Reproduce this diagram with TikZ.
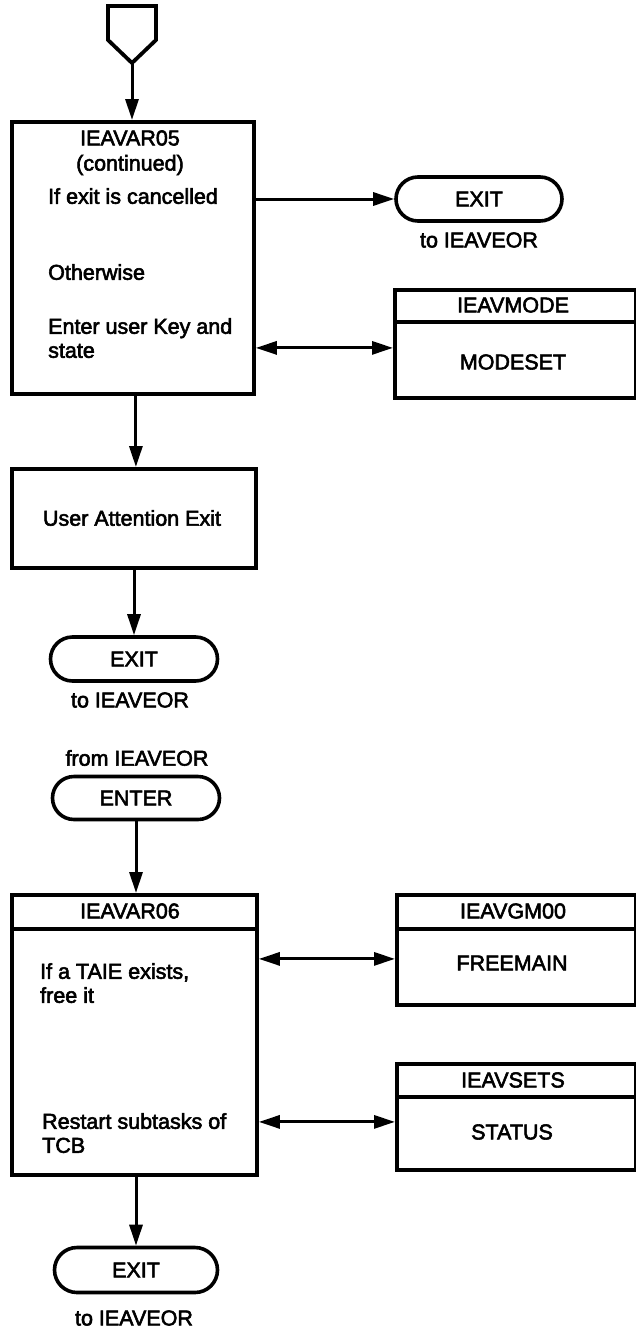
\documentclass[tikz,border=0pt]{standalone}
\usepackage{fontspec}
\setmainfont{Liberation Sans}[FakeBold=2.6]
\usetikzlibrary{arrows.meta,shapes.misc}
\begin{document}
\begin{tikzpicture}[x=1pt,y=-1pt,
  box/.style={draw,line width=3.8pt,inner sep=0pt,anchor=north west,font=\fontsize{21.5}{24}\selectfont},
  term/.style={draw,line width=3.6pt,rounded rectangle,inner sep=0pt,font=\fontsize{21.5}{24}\selectfont},
  txt/.style={inner sep=0pt,font=\fontsize{21.5}{24}\selectfont},
  ltxt/.style={txt,anchor=north west,align=left},
  tip/.tip={Triangle[length=21pt,width=13pt]},
  flow/.style={line width=3pt,-tip},
  both/.style={line width=3pt,tip-tip},
  rule/.style={line width=3.3pt}]
\useasboundingbox (0,0) rectangle (636,1333);

% ---- IEAVAR05 (continued) ----
\draw[line width=3.8pt,line join=miter] (108,6) -- (156,6) -- (156,40) -- (132,63) -- (108,40) -- cycle;
\coordinate (pent) at (132,63);

\node[box,minimum width=242pt,minimum height=272pt] (A05) at (10,120) {};
\node[txt] (t05a) at (130,138) {IEAVAR05};
\node[txt] (t05b) at (130,165) {(continued)};
\node[ltxt] (t05c) at (48,188) {If exit is cancelled};
\node[ltxt] (t05d) at (48,264) {Otherwise};
\node[ltxt] (t05e) at (48,318) {Enter user Key and\\state};

\node[term,minimum width=166pt,minimum height=44pt] (X1) at (479,199) {EXIT};
\node[txt] (X1l) at (479,240) {to IEAVEOR};

\node[box,minimum width=241pt,minimum height=108pt] (MODE) at (393,288) {};
\draw[rule] ([yshift=-34pt]MODE.north west) -- ([yshift=-34pt]MODE.north east);
\node[txt] (MODEh) at (513,305) {IEAVMODE};
\node[txt] (MODEb) at (513,362) {MODESET};

\node[box,minimum width=244pt,minimum height=99pt,anchor=north west] (UAE) at (10,467) {};
\node[txt] (UAEt) at (132,518) {User Attention Exit};

\node[term,minimum width=167pt,minimum height=44pt] (X2) at (134,659) {EXIT};
\node[txt] (X2l) at (130,700) {to IEAVEOR};

\draw[flow] (pent) -- (pent |- A05.north);
\draw[flow] (X1.west -| A05.east) -- (X1.west);
\draw[both] ([yshift=-4pt]MODE.west -| A05.east) -- ([yshift=-4pt]MODE.west);
\draw[flow] ([xshift=3pt]A05.south) -- ([xshift=3pt]A05.south |- UAE.north);
\draw[flow] (UAE.south -| X2.north) -- (X2.north);

% ---- IEAVAR06 ----
\node[txt] (fromL) at (137,758) {from IEAVEOR};
\node[term,minimum width=167pt,minimum height=43pt] (ENT) at (136,798) {ENTER};

\node[box,minimum width=245pt,minimum height=280pt] (A06) at (10,893) {};
\draw[rule] ([yshift=-36pt]A06.north west) -- ([yshift=-36pt]A06.north east);
\node[txt] (t06a) at (130,911) {IEAVAR06};
\node[ltxt] (t06b) at (40,963) {If a TAIE exists,\\free it};
\node[ltxt] (t06c) at (42,1113) {Restart subtasks of\\TCB};

\node[box,minimum width=239pt,minimum height=110pt] (GM) at (395,893) {};
\draw[rule] ([yshift=-36pt]GM.north west) -- ([yshift=-36pt]GM.north east);
\node[txt] (GMh) at (513,911) {IEAVGM00};
\node[txt] (GMb) at (512,963) {FREEMAIN};

\node[box,minimum width=239pt,minimum height=106pt] (SETS) at (395,1062) {};
\draw[rule] ([yshift=-35pt]SETS.north west) -- ([yshift=-35pt]SETS.north east);
\node[txt] (SETSh) at (513,1080) {IEAVSETS};
\node[txt] (SETSb) at (512,1132) {STATUS};

\node[term,minimum width=163pt,minimum height=45pt] (X3) at (136,1270) {EXIT};
\node[txt] (X3l) at (134,1318) {to IEAVEOR};

\draw[flow] (ENT.south) -- (ENT.south |- A06.north);
\draw[both] ([yshift=-9pt]GM.west -| A06.east) -- ([yshift=-9pt]GM.west);
\draw[both] ([yshift=-5pt]SETS.west -| A06.east) -- ([yshift=-5pt]SETS.west);
\draw[flow] (A06.south -| X3.north) -- (X3.north);
\end{tikzpicture}
\end{document}
